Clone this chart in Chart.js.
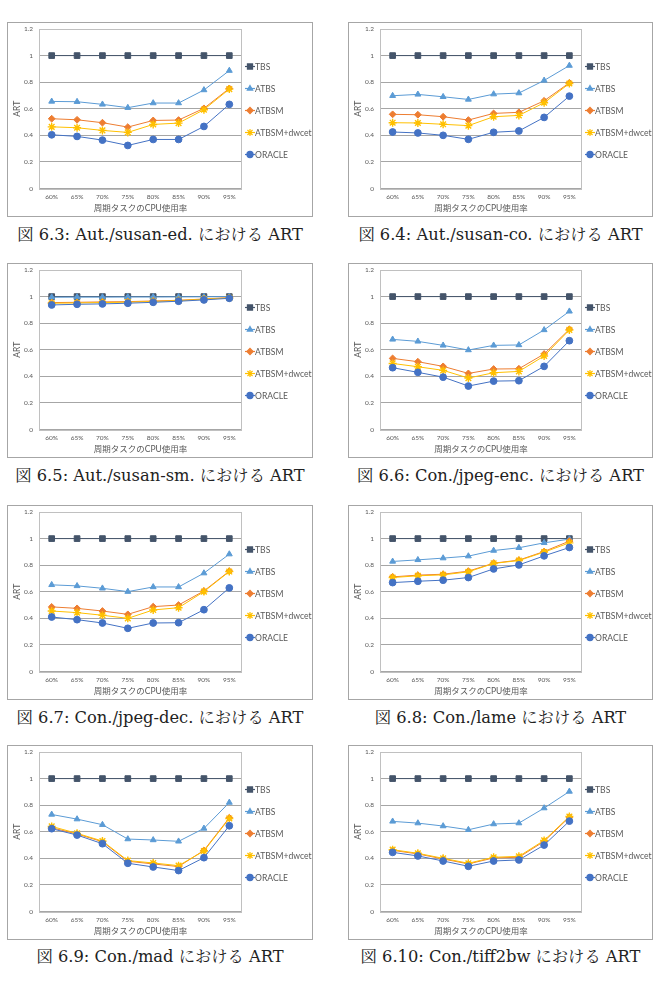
<!DOCTYPE html>
<html>
<head>
<meta charset="utf-8">
<script src="https://cdn.jsdelivr.net/npm/chart.js@4/dist/chart.umd.min.js"></script>
<style>
  body { margin: 0; background: #fff; width: 663px; height: 987px; position: relative; overflow: hidden; }
  .panel { position: absolute; border: 1px solid #a6a6a6; background: #fff; }
  .panel canvas { display: block; }
  .cap { position: absolute; width: 340px; text-align: center; font-family: "DejaVu Serif", "Noto Serif", "Noto Serif CJK JP", serif; font-size: 16.3px; font-weight: normal; color: #222; white-space: nowrap; line-height: 20px; }
</style>
</head>
<body>
<script>
// x軸カテゴリと系列名
const cpuLabels = ["60%", "65%", "70%", "75%", "80%", "85%", "90%", "95%"];
const seriesNames = ["TBS", "ATBS", "ATBSM", "ATBSM+dwcet", "ORACLE"];
const tbsArt = [1, 1, 1, 1, 1, 1, 1, 1];

// 図 6.3 Aut./susan-ed.
const susanEdAtbs = [0.655, 0.653, 0.633, 0.608, 0.643, 0.643, 0.741, 0.887];
const susanEdAtbsm = [0.525, 0.517, 0.495, 0.462, 0.512, 0.515, 0.603, 0.753];
const susanEdDwcet = [0.464, 0.457, 0.437, 0.422, 0.482, 0.492, 0.593, 0.748];
const susanEdOracle = [0.404, 0.392, 0.364, 0.324, 0.369, 0.369, 0.467, 0.633];

// 図 6.4 Aut./susan-co.
const susanCoAtbs = [0.698, 0.708, 0.69, 0.67, 0.71, 0.718, 0.813, 0.925];
const susanCoAtbsm = [0.558, 0.555, 0.54, 0.515, 0.565, 0.573, 0.66, 0.795];
const susanCoDwcet = [0.495, 0.493, 0.483, 0.473, 0.54, 0.55, 0.645, 0.79];
const susanCoOracle = [0.425, 0.418, 0.4, 0.37, 0.423, 0.433, 0.535, 0.695];

// 図 6.5 Aut./susan-sm.
const susanSmAtbs = [0.995, 0.996, 0.996, 0.997, 0.997, 0.998, 0.999, 1.0];
const susanSmAtbsm = [0.955, 0.957, 0.96, 0.962, 0.967, 0.972, 0.982, 0.992];
const susanSmDwcet = [0.95, 0.952, 0.955, 0.958, 0.963, 0.97, 0.98, 0.99];
const susanSmOracle = [0.937, 0.942, 0.945, 0.95, 0.957, 0.965, 0.975, 0.987];

// 図 6.6 Con./jpeg-enc.
const jpegEncAtbs = [0.678, 0.663, 0.633, 0.598, 0.633, 0.636, 0.749, 0.889];
const jpegEncAtbsm = [0.535, 0.51, 0.475, 0.422, 0.455, 0.457, 0.568, 0.754];
const jpegEncDwcet = [0.497, 0.472, 0.445, 0.387, 0.427, 0.437, 0.553, 0.749];
const jpegEncOracle = [0.465, 0.43, 0.394, 0.327, 0.364, 0.367, 0.475, 0.668];

// 図 6.7 Con./jpeg-dec.
const jpegDecAtbs = [0.652, 0.644, 0.626, 0.601, 0.636, 0.636, 0.74, 0.883];
const jpegDecAtbsm = [0.486, 0.475, 0.455, 0.43, 0.488, 0.5, 0.606, 0.755];
const jpegDecDwcet = [0.455, 0.443, 0.423, 0.4, 0.463, 0.48, 0.601, 0.752];
const jpegDecOracle = [0.41, 0.39, 0.365, 0.325, 0.365, 0.367, 0.465, 0.629];

// 図 6.8 Con./lame
const lameAtbs = [0.828, 0.84, 0.853, 0.868, 0.91, 0.931, 0.968, 0.996];
const lameAtbsm = [0.712, 0.725, 0.732, 0.755, 0.815, 0.838, 0.903, 0.981];
const lameDwcet = [0.707, 0.72, 0.727, 0.75, 0.813, 0.835, 0.898, 0.968];
const lameOracle = [0.669, 0.679, 0.687, 0.707, 0.772, 0.802, 0.87, 0.933];

// 図 6.9 Con./mad
const madAtbs = [0.73, 0.695, 0.653, 0.545, 0.538, 0.528, 0.625, 0.82];
const madAtbsm = [0.63, 0.583, 0.525, 0.378, 0.358, 0.338, 0.46, 0.705];
const madDwcet = [0.64, 0.588, 0.53, 0.383, 0.365, 0.345, 0.455, 0.7];
const madOracle = [0.623, 0.575, 0.51, 0.363, 0.335, 0.308, 0.405, 0.645];

// 図 6.10 Con./tiff2bw
const tiffAtbs = [0.678, 0.665, 0.643, 0.615, 0.658, 0.665, 0.778, 0.903];
const tiffAtbsm = [0.46, 0.433, 0.395, 0.358, 0.403, 0.408, 0.528, 0.71];
const tiffDwcet = [0.465, 0.438, 0.4, 0.363, 0.408, 0.415, 0.535, 0.715];
const tiffOracle = [0.445, 0.418, 0.38, 0.34, 0.38, 0.388, 0.5, 0.68];

const figures = [
  { caption: "図 6.3: Aut./susan-ed. における ART", data: [tbsArt, susanEdAtbs, susanEdAtbsm, susanEdDwcet, susanEdOracle] },
  { caption: "図 6.4: Aut./susan-co. における ART", data: [tbsArt, susanCoAtbs, susanCoAtbsm, susanCoDwcet, susanCoOracle] },
  { caption: "図 6.5: Aut./susan-sm. における ART", data: [tbsArt, susanSmAtbs, susanSmAtbsm, susanSmDwcet, susanSmOracle] },
  { caption: "図 6.6: Con./jpeg-enc. における ART", data: [tbsArt, jpegEncAtbs, jpegEncAtbsm, jpegEncDwcet, jpegEncOracle] },
  { caption: "図 6.7: Con./jpeg-dec. における ART", data: [tbsArt, jpegDecAtbs, jpegDecAtbsm, jpegDecDwcet, jpegDecOracle] },
  { caption: "図 6.8: Con./lame における ART", data: [tbsArt, lameAtbs, lameAtbsm, lameDwcet, lameOracle] },
  { caption: "図 6.9: Con./mad における ART", data: [tbsArt, madAtbs, madAtbsm, madDwcet, madOracle] },
  { caption: "図 6.10: Con./tiff2bw における ART", data: [tbsArt, tiffAtbs, tiffAtbsm, tiffDwcet, tiffOracle] }
];

// 系列ごとの見た目 (Excel風)
const styles = [
  { color: "#44546A", point: "rect", radius: 4, bw: 1 },
  { color: "#5B9BD5", point: "triangle", radius: 3.4, bw: 1 },
  { color: "#ED7D31", point: "rectRot", radius: 3.4, bw: 1 },
  { color: "#FFC000", point: "star", radius: 4, bw: 1.4 },
  { color: "#4472C4", point: "circle", radius: 3.4, bw: 1 }
];

const textGray = "#595959";
const sansFont = "Lato, 'Noto Sans CJK JP', sans-serif";

// プロットエリアの枠と凡例
const frameAndLegend = {
  id: "frameAndLegend",
  beforeDatasetsDraw(chart) {
    const { ctx, chartArea: a } = chart;
    ctx.save();
    ctx.strokeStyle = "#c0c0c0";
    ctx.lineWidth = 1;
    ctx.strokeRect(Math.round(a.left) + 0.5, Math.round(a.top) + 0.5, Math.round(a.width) - 1, Math.round(a.height));
    ctx.restore();
  },
  afterDraw(chart) {
    const { ctx, chartArea: a } = chart;
    ctx.save();
    chart.data.datasets.forEach((ds, i) => {
      const st = styles[i];
      const y = a.top + 37.5 + i * 22;
      const x0 = a.right + 3;
      ctx.strokeStyle = st.color;
      ctx.fillStyle = st.color;
      ctx.lineWidth = 1.2;
      ctx.beginPath();
      ctx.moveTo(x0, y);
      ctx.lineTo(x0 + 10, y);
      ctx.stroke();
      Chart.helpers.drawPoint(ctx, { pointStyle: st.point, radius: st.radius * 0.9, rotation: 0, borderWidth: st.bw }, x0 + 5, y);
      ctx.fillStyle = textGray;
      ctx.font = "10px " + sansFont;
      ctx.textBaseline = "middle";
      ctx.textAlign = "left";
      // Calibri風に少し横を詰める
      ctx.save();
      ctx.translate(x0 + 10, y + 0.5);
      ctx.scale(0.86, 1);
      ctx.fillText(ds.label, 0, 0);
      ctx.restore();
    });
    ctx.restore();
  }
};

const colX = [7, 348];
const colW = [306, 305];
const rowTop = [22, 263, 505, 745];
const capY = [225, 466, 708, 947];

figures.forEach((fig, k) => {
  const col = k % 2;
  const row = Math.floor(k / 2);

  const panel = document.createElement("div");
  panel.className = "panel";
  panel.style.left = colX[col] + "px";
  panel.style.top = rowTop[row] + "px";
  const canvas = document.createElement("canvas");
  canvas.width = colW[col] - 2;
  canvas.height = 193;
  panel.appendChild(canvas);
  document.body.appendChild(panel);

  const cap = document.createElement("div");
  cap.className = "cap";
  cap.textContent = fig.caption;
  cap.style.left = (colX[col] + colW[col] / 2 - 170) + "px";
  cap.style.top = capY[row] + "px";
  document.body.appendChild(cap);

  new Chart(canvas, {
    type: "line",
    data: {
      labels: cpuLabels,
      datasets: fig.data.map((values, i) => ({
        label: seriesNames[i],
        data: values,
        borderColor: styles[i].color,
        backgroundColor: styles[i].color,
        pointBackgroundColor: styles[i].color,
        pointBorderColor: styles[i].color,
        pointStyle: styles[i].point,
        pointRadius: styles[i].radius,
        pointBorderWidth: styles[i].bw,
        borderWidth: 1,
        tension: 0,
        order: 5 - i
      }))
    },
    options: {
      responsive: false,
      animation: false,
      layout: { padding: { top: 6, right: 70, left: 0, bottom: 0 } },
      plugins: {
        legend: { display: false },
        tooltip: { enabled: false }
      },
      scales: {
        x: {
          offset: true,
          grid: { display: false, drawTicks: false },
          border: { display: false },
          ticks: { color: textGray, font: { size: 6.5, family: sansFont }, padding: 5, maxRotation: 0 },
          title: { display: true, text: "周期タスクのCPU使用率", color: textGray, font: { size: 8.5, family: sansFont }, padding: { top: 1, bottom: 3 } },
          afterFit(scale) { scale.height = 27.5; }
        },
        y: {
          min: 0,
          max: 1.2,
          ticks: {
            stepSize: 0.2,
            color: textGray,
            font: { size: 6.5, family: sansFont },
            padding: 2,
            callback: (v) => String(Math.round(v * 10) / 10)
          },
          grid: { color: "#a6a6a6", drawTicks: true, tickLength: 4, tickColor: "rgba(0,0,0,0)", lineWidth: 1 },
          border: { display: false },
          title: { display: true, text: "ART", color: textGray, font: { size: 8.5, family: sansFont }, padding: { top: 4, bottom: 0 } },
          afterFit(scale) { scale.width = 31; }
        }
      }
    },
    plugins: [frameAndLegend]
  });
});
</script>
</body>
</html>
